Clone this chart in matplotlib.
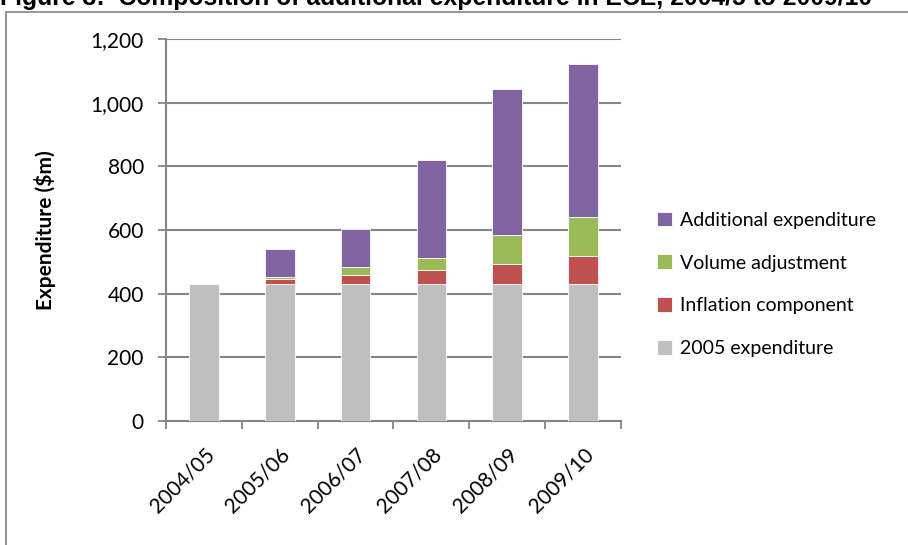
import matplotlib
matplotlib.use("Agg")
import matplotlib.pyplot as plt
from matplotlib.patches import Rectangle
from matplotlib.transforms import ScaledTranslation
import numpy as np

# Financial years
years = ["2004/05", "2005/06", "2006/07", "2007/08", "2008/09", "2009/10"]

# Expenditure components ($m)
base_2005 = [429, 429, 429, 429, 429, 429]
inflation = [0, 17, 30, 46, 65, 89]
volume = [0, 5, 24, 37, 89, 124]
additional = [0, 90, 119, 307, 461, 480]

series_labels = ["Additional expenditure", "Volume adjustment",
                 "Inflation component", "2005 expenditure"]
y_ticks = [0, 200, 400, 600, 800, 1000, 1200]

c_gray = "#BFBFBF"
c_red = "#C0504D"
c_green = "#9BBB59"
c_purple = "#8064A2"
axis_gray = "#868686"

W, H = 908, 545
fig = plt.figure(figsize=(W / 100, H / 100), dpi=100)
body_font = "Lato"

# Outer chart frame (extends beyond right/bottom edges)
fig.patches.append(Rectangle((6 / W, -0.1), 1.2, (H - 12.5) / H + 0.1,
                             transform=fig.transFigure, fill=False,
                             edgecolor="#8C8C8C", linewidth=1.3, zorder=0))

# Figure caption, partly above the top edge
fig.text(0.0, 1 - 5.5 / H,
         "Figure 3:  Composition of additional expenditure in ECE, 2004/5 to 2009/10",
         ha="left", va="baseline", fontsize=17.8, fontweight="bold",
         family="Liberation Sans", color="black")

ax = fig.add_axes([166 / W, 124 / H, 455 / W, 382 / H])
x = np.arange(len(years))
bw = 0.39
b0 = np.array(base_2005, dtype=float)
b1 = b0 + np.array(inflation)
b2 = b1 + np.array(volume)

edge = dict(edgecolor="white", linewidth=0.6)
h_gray = ax.bar(x, base_2005, bw, color=c_gray, zorder=3, **edge)
h_red = ax.bar(x, inflation, bw, bottom=b0, color=c_red, zorder=3, **edge)
h_green = ax.bar(x, volume, bw, bottom=b1, color=c_green, zorder=3, **edge)
h_purple = ax.bar(x, additional, bw, bottom=b2, color=c_purple, zorder=3, **edge)

ax.set_xlim(-0.5, len(years) - 0.5)
ax.set_ylim(0, 1200)
ax.set_yticks(y_ticks)
ax.set_yticklabels([f"{v:,}" for v in y_ticks], fontsize=15,
                   family=body_font)
ax.yaxis.grid(True, color=axis_gray, linewidth=1.5, zorder=0)
ax.set_axisbelow(True)

ax.set_xticks(np.arange(-0.5, len(years), 1.0))
ax.set_xticklabels([])
ax.set_xticks(x, minor=True)
ax.set_xticklabels(years, minor=True, rotation=45, ha="right",
                   rotation_mode="anchor", fontsize=15, family=body_font)
shift = ScaledTranslation(-3 / 100, 0, fig.dpi_scale_trans)
for lbl in ax.get_xticklabels(minor=True):
    lbl.set_transform(lbl.get_transform() + shift)
ax.tick_params(axis="x", which="minor", length=0, pad=17)
ax.tick_params(axis="x", which="major", length=6, width=1.3,
               color=axis_gray, direction="out")
ax.tick_params(axis="y", length=6, width=1.3, color=axis_gray,
               direction="out", pad=10)

for s in ["top", "right"]:
    ax.spines[s].set_visible(False)
for s in ["left", "bottom"]:
    ax.spines[s].set_color(axis_gray)
    ax.spines[s].set_linewidth(1.5)

ax.set_ylabel("Expenditure ($m)", fontsize=15, fontweight="bold",
              family=body_font)
ax.yaxis.set_label_coords(-(166 - 56) / 455, 0.5)

leg = fig.legend([h_purple, h_green, h_red, h_gray], series_labels,
                 loc="upper left", bbox_to_anchor=(639 / W, 1 - 194 / H),
                 frameon=False, handlelength=0.8,
                 handleheight=0.8, handletextpad=0.4, labelspacing=1.32,
                 prop={"family": body_font, "size": 14})

fig.savefig("out.png", dpi=100, facecolor="white")
